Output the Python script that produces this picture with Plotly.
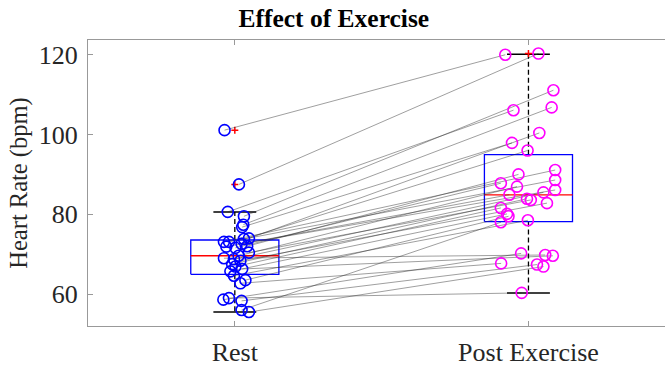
import plotly.graph_objects as go

categories = ["Rest", "Post Exercise"]

# paired heart-rate values (bpm)
rest_hr = [101.1, 87.5, 80.6, 79.5, 77.4, 76.8, 73.96, 73.8, 73.1, 73.1, 72.6, 72.0, 71.9, 71.6,
           70.4, 69.6, 69.0, 68.75, 68.35, 67.5, 66.9, 66.3, 65.7, 64.6, 63.5, 62.7, 59.0, 58.6,
           58.3, 56.0, 55.5]
post_hr = [120.0, 120.3, 106.1, 111.1, 106.8, 97.9, 100.4, 96.0, 91.1, 88.6, 86.1, 90.0, 84.9, 87.8,
           83.6, 86.95, 69.8, 85.5, 82.8, 83.9, 81.6, 69.6, 80.1, 78.5, 79.5, 67.7, 60.3, 70.2,
           67.4, 78.0, 66.9]
# jittered x positions
rest_x = [0.965, 1.014, 0.976, 1.031, 1.029, 1.025, 1.048, 1.031, 0.963, 0.980, 1.023, 1.042, 0.971, 1.002,
          1.048, 1.013, 0.963, 0.997, 1.019, 0.991, 1.002, 1.025, 0.985, 0.997, 1.036, 1.019, 0.980, 0.961,
          1.023, 1.023, 1.048]
post_x = [1.921, 2.034, 1.949, 2.085, 2.079, 1.944, 2.037, 1.997, 2.091, 2.091, 2.091, 1.966, 1.935, 1.906,
          2.008, 1.961, 2.057, 2.051, 2.063, 1.995, 1.906, 2.083, 1.927, 1.998, 1.932, 1.907, 1.977, 1.975,
          2.029, 1.906, 2.051]

# box statistics per group
box_pos = [1, 2]
q1 = [64.95, 78.17]
med = [69.6, 84.87]
q3 = [73.56, 94.96]
whisk_lo = [55.5, 60.3]
whisk_hi = [80.6, 120.1]
outliers = [[101.1, 87.5], [120.3]]

half_w = 0.15
cap_w = 0.073

fig = go.Figure()

for i, p in enumerate(box_pos):
    # whiskers (dashed)
    fig.add_trace(go.Scatter(x=[p, p, None, p, p], y=[q3[i], whisk_hi[i], None, q1[i], whisk_lo[i]],
                             mode="lines", line=dict(color="black", width=1.3, dash="5px,3px"),
                             hoverinfo="skip", showlegend=False))
    # caps
    fig.add_trace(go.Scatter(x=[p - cap_w, p + cap_w, None, p - cap_w, p + cap_w],
                             y=[whisk_hi[i], whisk_hi[i], None, whisk_lo[i], whisk_lo[i]],
                             mode="lines", line=dict(color="black", width=1.5),
                             hoverinfo="skip", showlegend=False))
    # box
    fig.add_trace(go.Scatter(x=[p - half_w, p + half_w, p + half_w, p - half_w, p - half_w],
                             y=[q1[i], q1[i], q3[i], q3[i], q1[i]],
                             mode="lines", line=dict(color="#0000ff", width=1.3),
                             hoverinfo="skip", showlegend=False))
    # median
    fig.add_trace(go.Scatter(x=[p - half_w, p + half_w], y=[med[i], med[i]],
                             mode="lines", line=dict(color="#ff0000", width=1.4),
                             hoverinfo="skip", showlegend=False))
    # outliers
    fig.add_trace(go.Scatter(x=[p] * len(outliers[i]), y=outliers[i], mode="markers",
                             marker=dict(symbol="cross-thin", size=5, color="#ff0000",
                                         line=dict(color="#ff0000", width=1.5)),
                             hoverinfo="skip", showlegend=False))

# paired lines
lx, ly = [], []
for a, b, c, d in zip(rest_x, rest_hr, post_x, post_hr):
    lx += [a, c, None]
    ly += [b, d, None]
fig.add_trace(go.Scatter(x=lx, y=ly, mode="lines", line=dict(color="rgba(40,40,40,0.75)", width=0.6),
                         hoverinfo="skip", showlegend=False))

fig.add_trace(go.Scatter(x=rest_x, y=rest_hr, mode="markers",
                         marker=dict(symbol="circle-open", size=11, color="#0000ff",
                                     line=dict(color="#0000ff", width=1.6)),
                         showlegend=False))
fig.add_trace(go.Scatter(x=post_x, y=post_hr, mode="markers",
                         marker=dict(symbol="circle-open", size=11, color="#ff00ff",
                                     line=dict(color="#ff00ff", width=1.6)),
                         showlegend=False))

fig.update_layout(
    width=665, height=367,
    margin=dict(l=88, r=0, t=40, b=39),
    paper_bgcolor="white", plot_bgcolor="white",
    font=dict(family="Liberation Serif", size=26, color="#262626"),
    title=dict(text="<b>Effect of Exercise</b>", x=0.502, xref="container", xanchor="center",
               y=0.952, yanchor="middle", font=dict(family="Liberation Serif", size=25.5, color="black")),
    xaxis=dict(range=[0.5, 2.465], tickmode="array", tickvals=box_pos, ticktext=categories,
               showline=True, linecolor="#999999", linewidth=1, mirror="ticks",
               ticks="inside", ticklen=5, tickcolor="#999999", showgrid=False, zeroline=False,
               ticklabelstandoff=3),
    yaxis=dict(range=[52, 123.7], tickvals=[60, 80, 100, 120],
               showline=True, linecolor="#999999", linewidth=1, mirror=False,
               ticks="inside", ticklen=5, tickcolor="#999999", showgrid=False, zeroline=False,
               title=dict(text="Heart Rate (bpm)", standoff=4, font=dict(size=24.5)), ticklabelstandoff=4),
)

fig.write_html("out.html")
